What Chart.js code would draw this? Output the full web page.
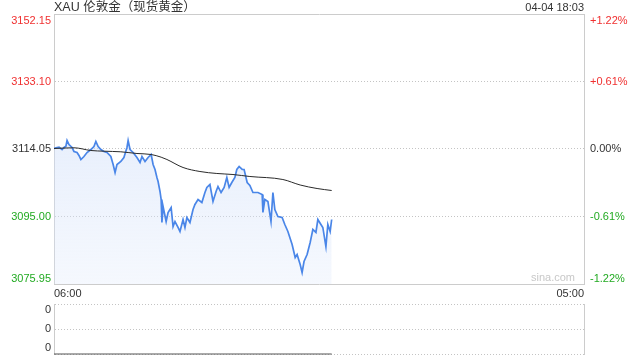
<!DOCTYPE html>
<html><head><meta charset="utf-8">
<script src="https://cdn.jsdelivr.net/npm/chart.js"></script>
<style>
html,body{margin:0;padding:0;background:#fff;}
#wrap{position:relative;width:640px;height:360px;overflow:hidden;}
canvas{position:absolute;left:0;top:0;}
</style></head><body>
<div id="wrap"><canvas id="main" width="640" height="360"></canvas><canvas id="vol" width="640" height="360"></canvas></div>
<script>
const title = 'XAU 伦敦金（现货黄金）';
const stamp = '04-04 18:03';
const watermark = 'sina.com';
const prevClose = 3114.05;
const priceTicks = [3075.95, 3095.00, 3114.05, 3133.10, 3152.15];
const leftTickLabels = ['3075.95', '3095.00', '3114.05', '3133.10', '3152.15'];
const rightTickLabels = ['-1.22%', '-0.61%', '0.00%', '+0.61%', '+1.22%'];
const timeLabels = ['06:00', '05:00'];
const sessionMinutes = 1380;

const priceMinutes = [0,8,13,21,26,31,34,39,47,52,60,65,70,78,86,96,104,109,115,122,130,138,148,154,159,164,174,182,190,193,198,206,216,224,229,237,245,253,258,263,268,271,276,279,281,284,292,297,305,310,315,323,328,336,341,346,354,362,367,375,385,393,398,406,414,422,427,435,443,450,456,463,471,476,482,490,495,503,510,518,531,542,544,549,557,565,570,575,583,594,601,609,620,628,633,641,646,651,659,667,674,682,687,695,700,708,713,719,723];
const priceValues = [3114.19,3114.47,3114.56,3113.91,3114.47,3114.84,3116.45,3115.32,3114.47,3113.35,3113.06,3112.22,3111.09,3111.93,3113.06,3113.91,3114.76,3116.17,3114.76,3113.91,3113.35,3113.06,3111.93,3109.68,3107.42,3109.68,3110.52,3111.65,3114.47,3116.45,3113.91,3113.06,3111.65,3110.24,3111.93,3110.52,3111.65,3112.50,3109.68,3108.27,3106.01,3104.88,3102.06,3099.80,3093.31,3097.82,3093.59,3096.13,3097.54,3092.18,3093.59,3091.90,3090.77,3094.15,3091.90,3094.72,3093.31,3096.98,3098.39,3099.80,3098.95,3101.77,3103.19,3104.03,3099.23,3102.06,3103.47,3101.77,3103.19,3106.01,3103.19,3104.60,3106.01,3108.27,3109.11,3108.27,3108.27,3104.60,3103.75,3101.77,3101.77,3101.21,3096.13,3099.80,3099.23,3093.59,3101.77,3096.98,3095.00,3094.72,3092.74,3090.77,3087.10,3083.43,3084.28,3081.45,3079.20,3082.30,3084.28,3087.66,3091.33,3090.49,3094.15,3092.74,3091.90,3086.53,3092.74,3090.77,3094.15];

const avgMinutes = [0,52,96,130,174,216,253,279,294,336,380,424,466,510,596,641,685,723];
const avgValues = [3114.19,3114.39,3113.63,3113.43,3113.26,3112.78,3112.50,3111.74,3111.09,3108.83,3107.70,3107.14,3106.85,3106.29,3105.44,3103.89,3102.90,3102.34];

const volMinutes = [0, 723];
const volValues = [0, 0];
const volTicks = [0, 0.5, 1];
const volTickLabels = ['0', '0', '0'];

const FONT = '"Liberation Sans", Arial, "Noto Sans CJK SC", sans-serif';
const RED = '#f03030', GREEN = '#22aa22', DARK = '#333333', FRAME = '#cccccc', DOT = '#c4c4c4';

function tickColor(v) {
  if (Math.abs(v - prevClose) < 1e-6) return DARK;
  return v > prevClose ? RED : GREEN;
}

const mainLabels = {
  id: 'mainLabels',
  afterDraw(chart) {
    const ctx = chart.ctx, a = chart.chartArea;
    const ys = chart.scales.y;
    ctx.save();
    ctx.textBaseline = 'middle';
    ctx.font = '11px ' + FONT;
    priceTicks.forEach((v, i) => {
      let y = ys.getPixelForValue(v);
      if (i === priceTicks.length - 1) y += 6.5;
      else if (i === 0) y -= 5.5;
      ctx.fillStyle = tickColor(v);
      ctx.textAlign = 'right';
      ctx.fillText(leftTickLabels[i], a.left - 3, y);
      ctx.textAlign = 'left';
      ctx.fillText(rightTickLabels[i], a.right + 6, y);
    });
    ctx.fillStyle = DARK;
    ctx.textAlign = 'left';
    ctx.fillText(timeLabels[0], a.left, a.bottom + 9.5);
    ctx.textAlign = 'right';
    ctx.fillText(timeLabels[1], a.right, a.bottom + 9.5);
    ctx.fillText(stamp, a.right, 8);
    ctx.fillStyle = '#c8c8c8';
    ctx.fillText(watermark, a.right - 9, a.bottom - 6);
    ctx.font = '12.5px ' + FONT;
    ctx.fillStyle = DARK;
    ctx.textAlign = 'left';
    ctx.fillText(title, a.left, 7.5);
    ctx.restore();
  }
};

const volLabels = {
  id: 'volLabels',
  afterDraw(chart) {
    const ctx = chart.ctx, a = chart.chartArea;
    const ys = chart.scales.y;
    ctx.save();
    ctx.textBaseline = 'middle';
    ctx.font = '11px ' + FONT;
    ctx.fillStyle = DARK;
    ctx.textAlign = 'right';
    volTicks.forEach((v, i) => {
      let y = ys.getPixelForValue(v);
      if (i === volTicks.length - 1) y += 6;
      else if (i === 0) y -= 6;
      ctx.fillText(volTickLabels[i], a.left - 3, y);
    });
    ctx.restore();
  }
};

function fillGrad(c) {
  const chart = c.chart, a = chart.chartArea;
  if (!a) return 'rgba(0,0,0,0)';
  const g = chart.ctx.createLinearGradient(0, a.top, 0, a.bottom);
  g.addColorStop(0, 'rgba(196,215,248,0.65)');
  g.addColorStop(1, 'rgba(222,232,251,0.3)');
  return g;
}

new Chart(document.getElementById('main'), {
  type: 'line',
  data: {
    datasets: [
      {
        label: 'avg',
        data: avgMinutes.map((t, i) => ({x: t, y: avgValues[i]})),
        borderColor: '#2a2a2a',
        borderWidth: 1,
        pointRadius: 0,
        fill: false,
        cubicInterpolationMode: 'monotone'
      },
      {
        label: 'price',
        data: priceMinutes.map((t, i) => ({x: t, y: priceValues[i]})),
        borderColor: '#4a86e8',
        borderWidth: 1.7,
        pointRadius: 0,
        tension: 0,
        fill: 'start',
        backgroundColor: fillGrad
      }
    ]
  },
  options: {
    responsive: false,
    animation: false,
    events: [],
    devicePixelRatio: 1,
    layout: {padding: {left: 54, right: 56, top: 14, bottom: 76}},
    plugins: {legend: {display: false}, tooltip: {enabled: false}},
    scales: {
      x: {type: 'linear', min: 0, max: sessionMinutes, display: false},
      y: {
        type: 'linear', position: 'left', min: priceTicks[0], max: priceTicks[priceTicks.length - 1],
        afterBuildTicks: s => { s.ticks = priceTicks.map(v => ({value: v})); },
        afterFit: s => { s.width = 0; },
        ticks: {display: false},
        grid: {drawTicks: false, lineWidth: 1, color: c => (c.index === 0 || c.index === priceTicks.length - 1) ? FRAME : DOT},
        border: {display: true, color: FRAME, width: 1, dash: c => (c.index === 0 || c.index === priceTicks.length - 1) ? [] : [1, 2]}
      },
      y2: {
        type: 'linear', position: 'right', min: priceTicks[0], max: priceTicks[priceTicks.length - 1],
        afterFit: s => { s.width = 0; },
        ticks: {display: false},
        grid: {display: false, drawTicks: false},
        border: {display: true, color: FRAME, width: 1}
      }
    }
  },
  plugins: [mainLabels]
});

new Chart(document.getElementById('vol'), {
  type: 'line',
  data: {
    datasets: [{
      label: 'vol',
      data: volMinutes.map((t, i) => ({x: t, y: volValues[i]})),
      borderColor: '#555555',
      borderWidth: 1.2,
      pointRadius: 0,
      fill: false,
      clip: 2
    }]
  },
  options: {
    responsive: false,
    animation: false,
    events: [],
    devicePixelRatio: 1,
    layout: {padding: {left: 54, right: 56, top: 304, bottom: 6}},
    plugins: {legend: {display: false}, tooltip: {enabled: false}},
    scales: {
      x: {type: 'linear', min: 0, max: sessionMinutes, display: false},
      y: {
        type: 'linear', position: 'left', min: 0, max: 1,
        afterBuildTicks: s => { s.ticks = volTicks.map(v => ({value: v})); },
        afterFit: s => { s.width = 0; },
        ticks: {display: false},
        grid: {drawTicks: false, lineWidth: 1, color: DOT},
        border: {display: true, color: FRAME, width: 1, dash: [1, 2]}
      },
      y2: {
        type: 'linear', position: 'right', min: 0, max: 1,
        afterFit: s => { s.width = 0; },
        ticks: {display: false},
        grid: {display: false, drawTicks: false},
        border: {display: true, color: FRAME, width: 1}
      }
    }
  },
  plugins: [volLabels]
});
</script>
</body></html>
